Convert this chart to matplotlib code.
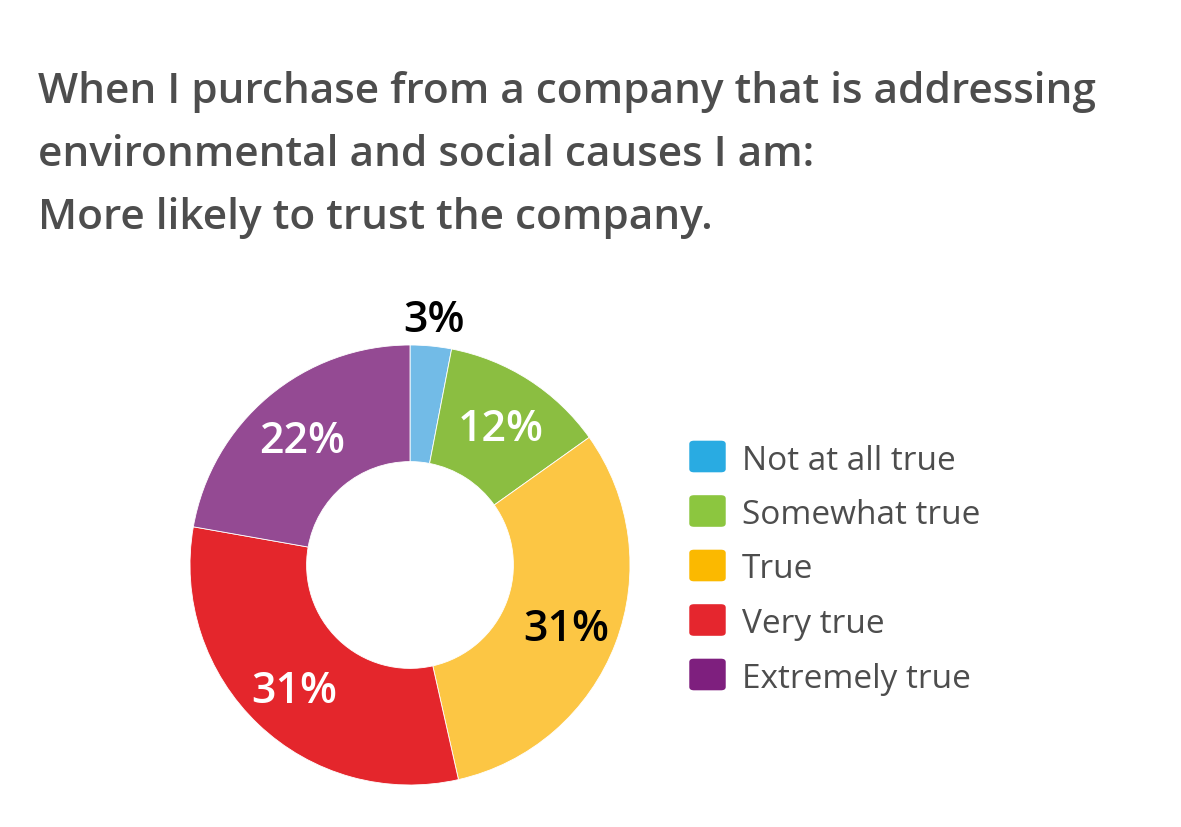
import numpy as np
import matplotlib.pyplot as plt
from matplotlib.patches import FancyBboxPatch

# data
categories = ["Not at all true", "Somewhat true", "True", "Very true", "Extremely true"]
values = [3, 12, 31, 31, 22]
slice_colors = ["#72BBE7", "#8BBE41", "#FCC644", "#E4262C", "#944A93"]
legend_colors = ["#29ABE2", "#8CC63F", "#FBB900", "#E5262E", "#7E1F7E"]
label_colors = ["black", "white", "black", "white", "white"]

title_lines = ["When I purchase from a company that is addressing",
               "environmental and social causes I am:",
               "More likely to trust the company."]

W, H = 1181, 827
fig = plt.figure(figsize=(W / 100, H / 100), dpi=100)
FONT = "Open Sans"

# title
for i, line in enumerate(title_lines):
    fig.text(38 / W, 1 - (103 + 63 * i) / H, line, fontsize=30.5, fontweight="semibold",
             family=FONT, color="#4D4D4D", ha="left", va="baseline")

# donut, centre (410, 565), outer radius 220 px
cx, cy, R = 410, 565, 220
half = R * 1.0455
ax = fig.add_axes([(cx - half) / W, (H - cy - half) / H, 2 * half / W, 2 * half / H])
wedges, _ = ax.pie(values, colors=slice_colors, startangle=90, counterclock=False,
                   radius=1.0, wedgeprops=dict(width=0.53, edgecolor="white", linewidth=0.6))
ax.set_xlim(-1.0455, 1.0455)
ax.set_ylim(-1.0455, 1.0455)
ax.set_aspect("equal")
ax.axis("off")

total = sum(values)
start = 90.0
for v, col in zip(values, label_colors):
    span = v / total * 360
    mid = np.deg2rad(start - span / 2)
    r = 1.14 if v < 5 else 0.76
    ax.text(r * np.cos(mid), r * np.sin(mid), f"{v}%", ha="center", va="center_baseline",
            fontsize=31, fontweight="semibold", family=FONT, color=col)
    start -= span

# legend
for i, (name, col) in enumerate(zip(categories, legend_colors)):
    y = 457 + 54.5 * i
    box = FancyBboxPatch(((690 + 4) / W, (H - y - 16 + 4) / H), 27 / W, 25 / H,
                         boxstyle="round,pad=0.004", transform=fig.transFigure,
                         facecolor=col, edgecolor="none")
    fig.patches.append(box)
    fig.text(742 / W, 1 - y / H, name, fontsize=24, fontweight="medium", family=FONT,
             color="#4D4D4D", ha="left", va="center_baseline")

fig.savefig("out.png", dpi=100, facecolor="white")
